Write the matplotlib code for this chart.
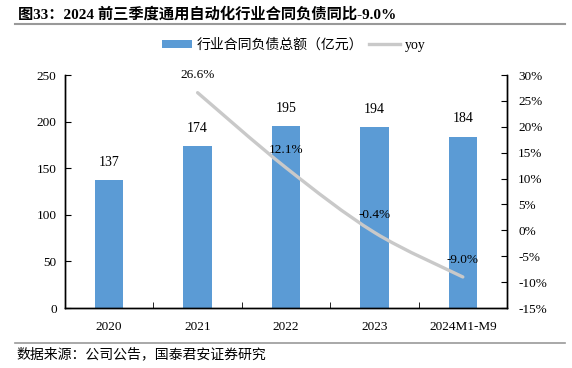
import matplotlib
matplotlib.use('Agg')
import matplotlib.pyplot as plt
from matplotlib.path import Path
from matplotlib.patches import PathPatch
from matplotlib.lines import Line2D
from matplotlib.patches import Patch
import numpy as np

# Données
categories = ['2020', '2021', '2022', '2023', '2024M1-M9']
contract_liab = [137, 174, 195, 194, 184]          # 亿元
yoy_idx = [1, 2, 3, 4]
yoy = [26.6, 12.1, -0.4, -9.0]                      # %

title = '图33：2024 前三季度通用自动化行业合同负债同比-9.0%'
source = '数据来源：公司公告，国泰君安证券研究'
bar_label = '行业合同负债总额（亿元）'

SERIF = ['Liberation Serif', 'Noto Sans CJK SC']
CJK = ['Noto Sans CJK SC', 'DejaVu Sans']
BLUE = '#5B9BD5'
GREY = '#C9C9C9'

fig = plt.figure(figsize=(5.72, 3.68), dpi=100)
ax = fig.add_axes([0.1136, 0.163, 0.7728, 0.633])
ax2 = ax.twinx()

x = np.arange(len(categories))
ax.bar(x, contract_liab, width=0.32, color=BLUE, zorder=2)
for xi, v in zip(x, contract_liab):
    ax.annotate(f'{v}', (xi, v), xytext=(0, 8), textcoords='offset points',
                ha='center', va='bottom', fontsize=10, family=SERIF)

ax.set_xlim(-0.5, len(categories) - 0.5)
ax.set_ylim(0, 250)
ax.set_yticks(range(0, 251, 50))
ax.set_xticks(x)
ax.set_xticklabels(categories, family=SERIF, fontsize=9.5)
ax.set_xticks(np.arange(0.5, len(categories) - 0.5, 1), minor=True)
ax.tick_params(axis='x', which='major', length=0, pad=9)
ax.tick_params(axis='x', which='minor', direction='in', length=4)
ax.tick_params(axis='y', direction='in', length=4, labelsize=9.5, pad=6)
for lab in ax.get_yticklabels():
    lab.set_family(SERIF)

# Courbe yoy lissée (Catmull-Rom -> Bézier)
ax2.set_ylim(-15, 30)
pts = list(zip(yoy_idx, yoy))
verts = [pts[0]]
codes = [Path.MOVETO]
for i in range(len(pts) - 1):
    p0 = np.array(pts[i - 1] if i > 0 else pts[i])
    p1 = np.array(pts[i])
    p2 = np.array(pts[i + 1])
    p3 = np.array(pts[i + 2] if i + 2 < len(pts) else pts[i + 1])
    c1 = p1 + (p2 - p0) / 6
    c2 = p2 - (p3 - p1) / 6
    verts += [tuple(c1), tuple(c2), tuple(p2)]
    codes += [Path.CURVE4] * 3
ax2.add_patch(PathPatch(Path(verts, codes), fill=False, edgecolor=GREY,
                        linewidth=2.4, capstyle='round', zorder=3))
for xi, v in zip(yoy_idx, yoy):
    ax2.annotate(f'{v:.1f}%', (xi, v), xytext=(0, 12.5), textcoords='offset points',
                 ha='center', va='center', fontsize=9.5, family=SERIF, zorder=4)

ax2.set_yticks(range(-15, 31, 5))
ax2.set_yticklabels([f'{t}%' for t in range(-15, 31, 5)], family=SERIF, fontsize=9.5)
ax2.tick_params(axis='y', direction='in', length=4, pad=8)

for a in (ax, ax2):
    a.spines['top'].set_visible(False)
    for s in ('left', 'right', 'bottom'):
        a.spines[s].set_linewidth(1.0)
        a.spines[s].set_color('black')

# Légende
handles = [Patch(facecolor=BLUE, edgecolor='none'),
           Line2D([], [], color=GREY, linewidth=2.4)]
leg = fig.legend(handles, [bar_label, 'yoy'], loc='center', bbox_to_anchor=(0.513, 0.878),
                 ncol=2, frameon=False, handlelength=2.2, handleheight=0.5,
                 columnspacing=0.4, handletextpad=0.35, prop={'family': CJK, 'size': 10})
for t in leg.get_texts():
    if t.get_text() == 'yoy':
        t.set_family(SERIF)
        t.set_fontsize(10)

# Titre, lignes et source
fig.text(0.032, 0.962, title, ha='left', va='center', fontsize=11, fontweight='bold',
         family=SERIF)
fig.add_artist(Line2D([0.026, 0.988], [0.935, 0.935], color='#999999', linewidth=1.5))
fig.add_artist(Line2D([0.026, 0.988], [0.068, 0.068], color='#999999', linewidth=1.2))
fig.text(0.028, 0.037, source, ha='left', va='center', fontsize=10, family=CJK)

fig.savefig('out.png', dpi=100)
